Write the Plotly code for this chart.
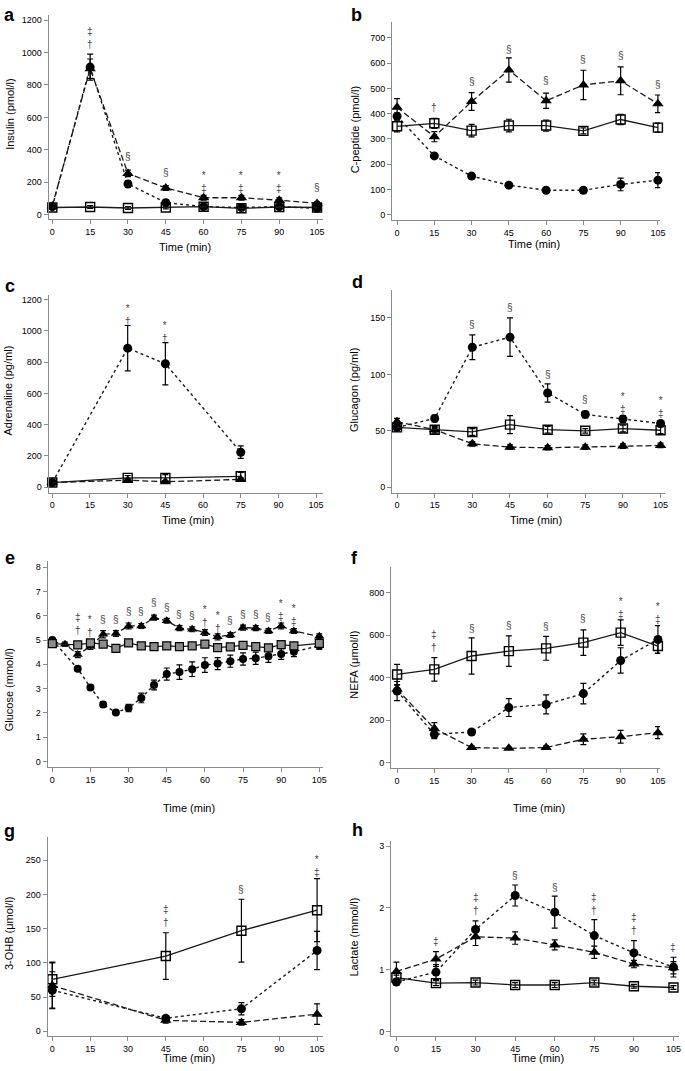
import plotly.graph_objects as go

W, H = 685, 1071
FONT = "Liberation Sans, Arial, sans-serif"

# ---------------- DATA ----------------
t8 = [0, 15, 30, 45, 60, 75, 90, 105]
t4c = [0, 30, 45, 75]
t4g = [0, 45, 75, 105]
e_t_tri = [0, 5, 10, 15, 20, 25, 30, 35, 40, 45, 50, 55, 60, 65, 70, 75, 80, 85, 90, 95, 105]
e_t_cs = [0, 10, 15, 20, 25, 30, 35, 40, 45, 50, 55, 60, 65, 70, 75, 80, 85, 90, 95, 105]

# a Insulin
a_sq = [45, 48, 42, 45, 50, 40, 48, 45]
a_sq_err = [8, 8, 8, 8, 8, 8, 8, 8]
a_circ = [50, 910, 190, 75, 50, 45, 50, 40]
a_circ_err = [10, 80, 20, 15, 8, 8, 8, 8]
a_tri = [55, 900, 255, 165, 105, 105, 90, 70]
a_tri_err = [10, 60, 20, 15, 15, 15, 15, 10]
a_sig_x = [15, 15, 30, 45, 60, 60, 75, 75, 90, 90, 105]
a_sig_y = [1120, 1058, 357, 258, 246, 185, 246, 185, 246, 185, 166]
a_sig_t = ["‡", "†", "§", "§", "*", "‡", "*", "‡", "*", "‡", "§"]

# b C-peptide
b_sq = [350, 362, 333, 353, 353, 332, 377, 345]
b_sq_err = [22, 20, 25, 25, 22, 12, 20, 18]
b_circ = [390, 233, 153, 117, 97, 97, 120, 137]
b_circ_err = [12, 8, 8, 8, 8, 8, 25, 30]
b_tri = [425, 309, 448, 573, 451, 514, 530, 439]
b_tri_err = [35, 20, 35, 48, 30, 58, 55, 35]
b_sig_x = [15, 30, 45, 60, 75, 90, 105]
b_sig_y = [423, 527, 655, 530, 613, 632, 514]
b_sig_t = ["†", "§", "§", "§", "§", "§", "§"]

# c Adrenaline
c_circ = [30, 890, 790, 224]
c_circ_err = [5, 145, 135, 40]
c_sq = [30, 60, 60, 70]
c_sq_err = [8, 15, 20, 25]
c_tri = [30, 45, 35, 50]
c_tri_err = [5, 10, 8, 10]
c_sig_x = [30, 30, 45, 45]
c_sig_y = [1140, 1089, 1030, 985]
c_sig_t = ["*", "†", "*", "†"]

# d Glucagon
d_circ = [53, 61, 124, 133, 83.5, 64.5, 60.5, 56.5]
d_circ_err = [2, 3, 11, 17, 8, 3, 3, 2]
d_sq = [53, 51, 49, 55.5, 51, 50, 52, 50.5]
d_sq_err = [3, 3, 3, 8, 3, 2, 3, 3]
d_tri = [58, 51, 38.5, 35.5, 35, 35.5, 36.5, 37]
d_tri_err = [3, 2, 2, 2, 2, 2, 2, 2]
d_sig_x = [30, 45, 60, 75, 90, 90, 105, 105]
d_sig_y = [144, 159, 99.7, 77.6, 80.5, 73, 76.7, 68.8]
d_sig_t = ["§", "§", "§", "§", "*", "‡", "*", "‡"]

# e Glucose
e_tri = [4.95, 4.83, 4.40, 4.73, 5.24, 5.27, 5.58, 5.58, 5.92, 5.79, 5.49, 5.44, 5.31, 5.13,
         5.21, 5.51, 5.49, 5.37, 5.58, 5.37, 5.15]
e_tri_err = [0.08, 0.08, 0.12, 0.12, 0.15, 0.12, 0.12, 0.1, 0.1, 0.1, 0.1, 0.1, 0.12, 0.12,
             0.1, 0.1, 0.1, 0.1, 0.12, 0.1, 0.1]
e_circ = [5.0, 3.82, 3.05, 2.35, 2.02, 2.2, 2.62, 3.15, 3.6, 3.68, 3.8, 3.97, 4.03, 4.13,
          4.22, 4.25, 4.33, 4.42, 4.52, 4.76]
e_circ_err = [0.1, 0.1, 0.1, 0.1, 0.08, 0.15, 0.2, 0.2, 0.25, 0.3, 0.3, 0.3, 0.25, 0.25,
              0.25, 0.25, 0.25, 0.22, 0.2, 0.15]
e_sq = [4.85, 4.80, 4.88, 4.83, 4.66, 4.88, 4.76, 4.73, 4.76, 4.73, 4.76, 4.83, 4.69, 4.72,
        4.78, 4.73, 4.68, 4.81, 4.76, 4.86]
e_sq_err = [0.08] * 20
e_sig_x = [10, 10, 15, 15, 20, 25, 30, 35, 40, 45, 50, 55, 60, 60, 65, 65, 70, 75, 80, 85,
           90, 90, 95, 95]
e_sig_y = [5.88, 5.47, 5.82, 5.51, 5.85, 5.85, 6.19, 6.19, 6.56, 6.33, 6.06, 6.01, 6.26, 5.92,
           6.01, 5.64, 5.82, 6.06, 6.06, 5.92, 6.51, 6.15, 6.30, 5.95]
e_sig_t = ["‡", "†", "*", "†", "§", "§", "§", "§", "§", "§", "§", "§", "*", "†", "*", "†",
           "§", "§", "§", "§", "*", "‡", "*", "‡"]

# f NEFA
f_sq = [415, 439, 502, 525, 538, 565, 612, 549]
f_sq_err = [48, 55, 85, 72, 56, 60, 60, 35]
f_circ = [337, 133, 144, 259, 274, 325, 481, 580]
f_circ_err = [45, 20, 10, 42, 45, 48, 60, 65]
f_tri = [345, 160, 71, 67, 71, 110, 122, 141]
f_tri_err = [20, 28, 8, 5, 8, 25, 30, 28]
f_sig_x = [15, 15, 30, 45, 60, 75, 90, 90, 105, 105]
f_sig_y = [596, 549, 632, 646, 640, 679, 760, 717, 737, 693]
f_sig_t = ["‡", "†", "§", "§", "§", "§", "*", "‡", "*", "‡"]

# g 3-OHB
g_sq = [76, 110, 147, 177]
g_sq_err = [25, 34, 46, 46]
g_circ = [60, 19, 33, 118]
g_circ_err = [27, 4, 9, 28]
g_tri = [67, 16, 13, 25]
g_tri_err = [33, 4, 4, 15]
g_sig_x = [45, 45, 75, 105, 105]
g_sig_y = [176, 160, 207, 251, 236.5]
g_sig_t = ["‡", "†", "§", "*", "‡"]

# h Lactate
h_circ = [0.80, 0.96, 1.65, 2.20, 1.93, 1.55, 1.27, 1.04]
h_circ_err = [0.05, 0.12, 0.14, 0.17, 0.26, 0.26, 0.2, 0.16]
h_tri = [0.97, 1.17, 1.53, 1.51, 1.40, 1.28, 1.09, 1.03]
h_tri_err = [0.15, 0.12, 0.14, 0.1, 0.08, 0.1, 0.06, 0.1]
h_sq = [0.87, 0.78, 0.79, 0.75, 0.75, 0.79, 0.73, 0.71]
h_sq_err = [0.04, 0.04, 0.04, 0.04, 0.04, 0.04, 0.03, 0.03]
h_sig_x = [15, 30, 30, 45, 60, 75, 75, 90, 90, 105]
h_sig_y = [1.45, 2.14, 1.98, 2.52, 2.33, 2.15, 1.98, 1.82, 1.66, 1.35]
h_sig_t = ["‡", "‡", "†", "§", "§", "‡", "†", "‡", "†", "‡"]

x_ticks = [0, 15, 30, 45, 60, 75, 90, 105]

# ---------------- PANELS (layout in pixels) ----------------
panels = [
    dict(label="a", ytitle="Insulin (pmol/l)", xd=(49, 325), yd=(15, 219), xr=(-1.46, 107.2),
         yr=(-24.6, 1231), yt=[0, 200, 400, 600, 800, 1000, 1200],
         tx=(t8, t8, t8), series=(a_sq, a_sq_err, a_circ, a_circ_err, a_tri, a_tri_err),
         sig=(a_sig_x, a_sig_y, a_sig_t), lab=(2, 3), yt_pos=(10, 114), xt_pos=(186, 247)),
    dict(label="b", ytitle="C-peptide (pmol/l)", xd=(395, 665), yd=(22, 220), xr=(-2.0, 105.9),
         yr=(-20, 763), yt=[0, 100, 200, 300, 400, 500, 600, 700],
         tx=(t8, t8, t8), series=(b_sq, b_sq_err, b_circ, b_circ_err, b_tri, b_tri_err),
         sig=(b_sig_x, b_sig_y, b_sig_t), lab=(352, 3), yt_pos=(357, 130), xt_pos=(538, 244)),
    dict(label="c", ytitle="Adrenaline (pg/ml)", xd=(49, 325), yd=(295, 493), xr=(-1.46, 107.6),
         yr=(-34, 1232), yt=[0, 200, 400, 600, 800, 1000, 1200],
         tx=(t4c, t4c, t4c), series=(c_sq, c_sq_err, c_circ, c_circ_err, c_tri, c_tri_err),
         sig=(c_sig_x, c_sig_y, c_sig_t), lab=(3, 274), yt_pos=(8, 391), xt_pos=(189, 520)),
    dict(label="d", ytitle="Glucagon (pg/ml)", xd=(395, 670), yd=(290, 493), xr=(-1.96, 106.8),
         yr=(-4.7, 175), yt=[0, 50, 100, 150],
         tx=(t8, t8, t8), series=(d_sq, d_sq_err, d_circ, d_circ_err, d_tri, d_tri_err),
         sig=(d_sig_x, d_sig_y, d_sig_t), lab=(353, 270), yt_pos=(356, 390), xt_pos=(540, 520)),
    dict(label="e", ytitle="Glucose (mmol/l)", xd=(48, 325), yd=(562, 768), xr=(-1.83, 106.3),
         yr=(-0.234, 8.23), yt=[0, 1, 2, 3, 4, 5, 6, 7, 8],
         tx=(e_t_cs, e_t_cs, e_t_tri), series=(e_sq, e_sq_err, e_circ, e_circ_err, e_tri, e_tri_err),
         sig=(e_sig_x, e_sig_y, e_sig_t), lab=(3, 547), yt_pos=(9, 690), xt_pos=(190, 809)),
    dict(label="f", ytitle="NEFA (μmol/l)", xd=(394, 665), yd=(568, 769), xr=(-2.4, 105.9),
         yr=(-26.8, 919), yt=[0, 200, 400, 600, 800],
         tx=(t8, t8, t8), series=(f_sq, f_sq_err, f_circ, f_circ_err, f_tri, f_tri_err),
         sig=(f_sig_x, f_sig_y, f_sig_t), lab=(352, 547), yt_pos=(357, 665), xt_pos=(543, 809)),
    dict(label="g", ytitle="3-OHB (μmol/l)", xd=(48, 325), yd=(838, 1037), xr=(-1.85, 107.2),
         yr=(-6.9, 283.6), yt=[0, 50, 100, 150, 200, 250],
         tx=(t4g, t4g, t4g), series=(g_sq, g_sq_err, g_circ, g_circ_err, g_tri, g_tri_err),
         sig=(g_sig_x, g_sig_y, g_sig_t), lab=(2, 820), yt_pos=(9, 934), xt_pos=(190, 1059)),
    dict(label="h", ytitle="Lactate (mmol/l)", xd=(394, 684), yd=(842, 1037), xr=(-2.0, 107.1),
         yr=(-0.076, 3.079), yt=[0, 1, 2, 3],
         tx=(t8, t8, t8), series=(h_sq, h_sq_err, h_circ, h_circ_err, h_tri, h_tri_err),
         sig=(h_sig_x, h_sig_y, h_sig_t), lab=(353, 819), yt_pos=(357, 938), xt_pos=(542, 1059)),
]

LINE_C = "#1a1a1a"
AXIS_C = "#8a8a8a"
SIG_C = "#444444"

fig = go.Figure()
annotations = []

def err(arr):
    return dict(type="data", array=arr, visible=True, color="black", thickness=1.2, width=3)

for i, p in enumerate(panels):
    n = i + 1
    xa = "x" if n == 1 else f"x{n}"
    ya = "y" if n == 1 else f"y{n}"
    xk = "xaxis" if n == 1 else f"xaxis{n}"
    yk = "yaxis" if n == 1 else f"yaxis{n}"
    sq, sq_e, ci, ci_e, tr, tr_e = p["series"]
    t_sq, t_ci, t_tr = p["tx"]
    is_e = p["label"] == "e"
    msize = 8 if is_e else 9

    fig.add_trace(go.Scatter(
        x=t_tr, y=tr, error_y=err(tr_e), xaxis=xa, yaxis=ya, mode="lines+markers",
        line=dict(color=LINE_C, width=1.3, dash="6px,3px"),
        marker=dict(symbol="triangle-up", size=msize + 1, color="black"),
        showlegend=False, cliponaxis=False))
    fig.add_trace(go.Scatter(
        x=t_ci, y=ci, error_y=err(ci_e), xaxis=xa, yaxis=ya, mode="lines+markers",
        line=dict(color=LINE_C, width=1.4, dash="dot"),
        marker=dict(symbol="circle", size=msize, color="black"),
        showlegend=False, cliponaxis=False))
    if is_e:
        sq_marker = dict(symbol="square", size=8, color="#8c8c8c",
                         line=dict(color="black", width=1.2))
    else:
        sq_marker = dict(symbol="square-open", size=9, color="black",
                         line=dict(color="black", width=1.4))
    fig.add_trace(go.Scatter(
        x=t_sq, y=sq, error_y=err(sq_e), xaxis=xa, yaxis=ya, mode="lines+markers",
        line=dict(color=LINE_C, width=1.3),
        marker=sq_marker, showlegend=False, cliponaxis=False))

    x0, x1 = p["xd"]
    y0, y1 = p["yd"]
    fig.layout[xk] = dict(
        domain=[x0 / W, x1 / W], anchor=ya, range=list(p["xr"]),
        tickvals=x_ticks, ticktext=[str(v) for v in x_ticks],
        showline=True, linecolor=AXIS_C, linewidth=1, ticks="outside", ticklen=4,
        tickcolor=AXIS_C, tickwidth=1, showgrid=False, zeroline=False,
        tickfont=dict(family=FONT, size=9, color="black"), fixedrange=True)
    fig.layout[yk] = dict(
        domain=[1 - y1 / H, 1 - y0 / H], anchor=xa, range=list(p["yr"]),
        tickvals=p["yt"], ticktext=[str(v) for v in p["yt"]],
        showline=True, linecolor=AXIS_C, linewidth=1, ticks="outside", ticklen=4,
        tickcolor=AXIS_C, tickwidth=1, showgrid=False, zeroline=False,
        tickfont=dict(family=FONT, size=9, color="black"), fixedrange=True)

    # significance symbols: stack symbols at the same time point into one text
    sx, sy, st = p["sig"]
    groups = {}
    for xv, yv, tv in zip(sx, sy, st):
        groups.setdefault(xv, []).append((yv, tv))
    for xv, items in groups.items():
        items.sort(key=lambda it: -it[0])
        text = "<br>".join(tv for _, tv in items)
        ymid = sum(yv for yv, _ in items) / len(items)
        annotations.append(dict(
            x=xv, y=ymid, xref=xa, yref=ya, text=text, showarrow=False,
            font=dict(family=FONT, size=10, color=SIG_C),
            xanchor="center", yanchor="middle",
            yshift=-2 if items[0][1] == "*" else 0))

    # panel label
    lx, ly = p["lab"]
    annotations.append(dict(
        x=lx / W, y=1 - ly / H, xref="paper", yref="paper", text=f"<b>{p['label']}</b>",
        showarrow=False, xanchor="left", yanchor="top",
        font=dict(family=FONT, size=18, color="black")))
    # y title
    tx_, ty_ = p["yt_pos"]
    annotations.append(dict(
        x=tx_ / W, y=1 - ty_ / H, xref="paper", yref="paper", text=p["ytitle"],
        showarrow=False, textangle=-90, xanchor="center", yanchor="middle",
        font=dict(family=FONT, size=11, color="black")))
    # x title
    xx_, xy_ = p["xt_pos"]
    annotations.append(dict(
        x=xx_ / W, y=1 - xy_ / H, xref="paper", yref="paper", text="Time (min)",
        showarrow=False, xanchor="center", yanchor="middle",
        font=dict(family=FONT, size=11, color="black")))

fig.update_layout(
    width=W, height=H, margin=dict(l=0, r=0, t=0, b=0),
    paper_bgcolor="white", plot_bgcolor="white", showlegend=False,
    annotations=annotations, font=dict(family=FONT))

fig.write_html("out.html", config={"displayModeBar": False},
               post_script="document.body.style.margin='0';document.body.style.padding='0';")
